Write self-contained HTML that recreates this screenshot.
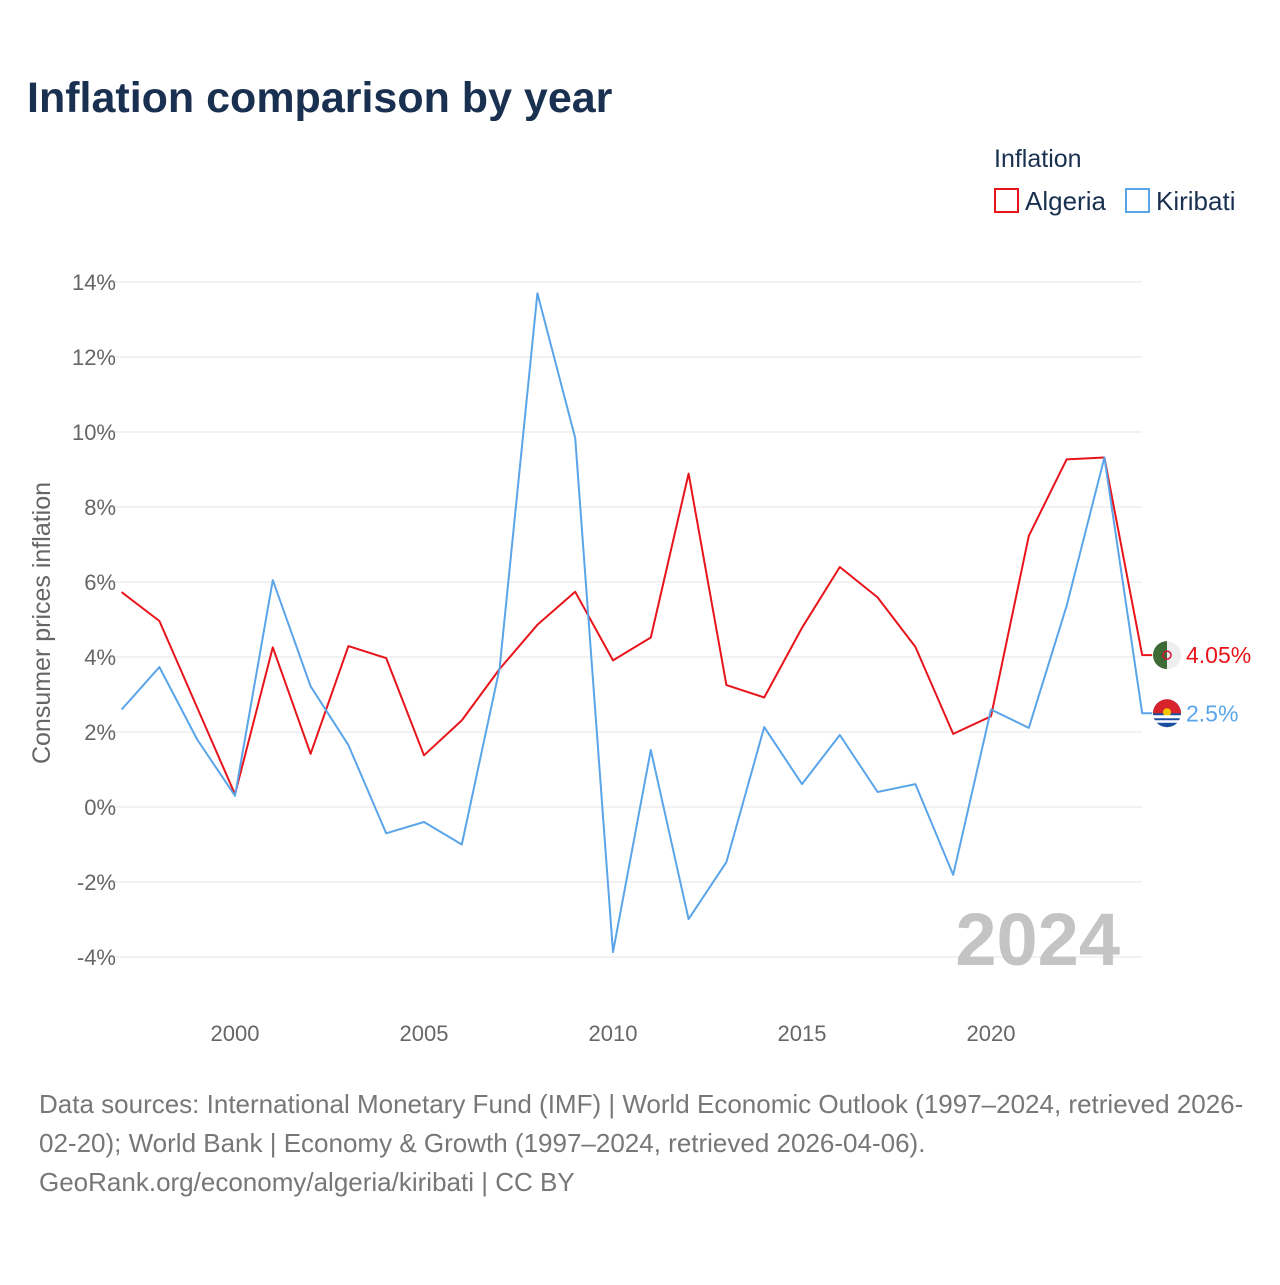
<!DOCTYPE html>
<html><head><meta charset="utf-8"><style>
body{margin:0;background:#fff;font-family:"Liberation Sans",sans-serif;}
svg text{font-family:"Liberation Sans",sans-serif;}
</style></head><body>
<svg id="chart" width="1280" height="1280" xmlns="http://www.w3.org/2000/svg">
<text x="27" y="112" font-size="43" font-weight="bold" fill="#1a3050">Inflation comparison by year</text>
<g>
<text x="994" y="167" font-size="25" fill="#1a3050">Inflation</text>
<g><rect x="995" y="189" width="23" height="23" fill="none" stroke="#e8141b" stroke-width="2"/><text x="1025" y="210" font-size="26" fill="#1a3050">Algeria</text></g>
<g><rect x="1126" y="189" width="23" height="23" fill="none" stroke="#5aa5ea" stroke-width="2"/><text x="1156" y="210" font-size="26" fill="#1a3050">Kiribati</text></g>
</g>
<g id="grid"></g>
<g id="yt"></g>
<g id="xt"></g>
<text transform="translate(50,623) rotate(-90)" text-anchor="middle" font-size="25" fill="#666">Consumer prices inflation</text>
<text x="1120" y="965" text-anchor="end" font-size="74" font-weight="bold" fill="#c4c4c4">2024</text>
<g id="series"></g>
<g font-size="26" fill="#777">
<text x="39" y="1113">Data sources: International Monetary Fund (IMF) | World Economic Outlook (1997–2024, retrieved 2026-</text>
<text x="39" y="1152">02-20); World Bank | Economy &amp; Growth (1997–2024, retrieved 2026-04-06).</text>
<text x="39" y="1191">GeoRank.org/economy/algeria/kiribati | CC BY</text>
</g>
</svg>
<script>
const years=[1997,1998,1999,2000,2001,2002,2003,2004,2005,2006,2007,2008,2009,2010,2011,2012,2013,2014,2015,2016,2017,2018,2019,2020,2021,2022,2023,2024];
const algeria=[5.73,4.96,2.65,0.34,4.26,1.42,4.29,3.97,1.38,2.31,3.68,4.86,5.74,3.91,4.52,8.89,3.25,2.92,4.78,6.4,5.59,4.27,1.95,2.42,7.23,9.27,9.32,4.05];
const kiribati=[2.6,3.73,1.8,0.3,6.05,3.22,1.65,-0.7,-0.4,-1.0,3.7,13.7,9.84,-3.87,1.52,-2.99,-1.47,2.13,0.61,1.92,0.4,0.61,-1.81,2.6,2.11,5.36,9.32,2.5];
const yTicks=[-4,-2,0,2,4,6,8,10,12,14];
const xTicks=[2000,2005,2010,2015,2020];
const NS="http://www.w3.org/2000/svg";
const xs=y=>235+(y-2000)*37.8;
const ys=v=>807-v*37.5;
function mk(tag,attrs,parent){const e=document.createElementNS(NS,tag);for(const k in attrs)e.setAttribute(k,attrs[k]);parent.appendChild(e);return e;}
const grid=document.getElementById('grid'),yt=document.getElementById('yt'),xt=document.getElementById('xt'),ser=document.getElementById('series');
yTicks.forEach(v=>{
 const l=mk('line',{x1:110,x2:1142,y1:ys(v),y2:ys(v),stroke:'#e6e6e6','stroke-width':1},grid);
 
 
 const t=mk('text',{x:116,y:ys(v)+8,'text-anchor':'end','font-size':22,fill:'#666'},yt);
 t.textContent=v+'%';
 
 
});
xTicks.forEach(v=>{
 const t=mk('text',{x:xs(v),y:1041,'text-anchor':'middle','font-size':22,fill:'#666'},xt);
 t.textContent=v;
 
 
});
function line(data,color,name){
 let d=data.map((v,i)=>(i?'L':'M')+xs(years[i]).toFixed(1)+','+ys(v).toFixed(1)).join(' ');
 d+=' L'+(xs(years[years.length-1])+10)+','+ys(data[data.length-1]).toFixed(1);
 const p=mk('path',{d:d,fill:'none',stroke:color,'stroke-width':2,'stroke-linejoin':'round'},ser);
 
 
}
line(algeria,'#e8141b','algeria-line');
line(kiribati,'#5aa5ea','kiribati-line');
const ex=1167;
const ay=ys(algeria[algeria.length-1]),ky=ys(kiribati[kiribati.length-1]);
const fa=mk('g',{},ser);


mk('circle',{cx:ex,cy:ay,r:14,fill:'#eee'},fa);
mk('path',{d:`M${ex},${ay-14} A14,14 0 0 0 ${ex},${ay+14} Z`,fill:'#3e6b35'},fa);
mk('circle',{cx:ex,cy:ay,r:4,fill:'none',stroke:'#d21034','stroke-width':1.5},fa);
const la=mk('text',{x:1186,y:ay+8,'font-size':23,fill:'#e8141b'},ser);
la.textContent='4.05%';


const fk=mk('g',{},ser);


mk('circle',{cx:ex,cy:ky,r:14,fill:'#1a4fa0'},fk);
mk('path',{d:`M${ex-14},${ky} A14,14 0 0 1 ${ex+14},${ky} Z`,fill:'#d8232a'},fk);
mk('circle',{cx:ex,cy:ky-1,r:4,fill:'#f5c400'},fk);
mk('rect',{x:ex-14,y:ky+2,width:28,height:3,fill:'#fff'},fk);
mk('rect',{x:ex-13,y:ky+7,width:26,height:2.5,fill:'#fff'},fk);
const lk=mk('text',{x:1186,y:ky+8,'font-size':23,fill:'#5aa5ea'},ser);
lk.textContent='2.5%';


</script>
</body></html>
